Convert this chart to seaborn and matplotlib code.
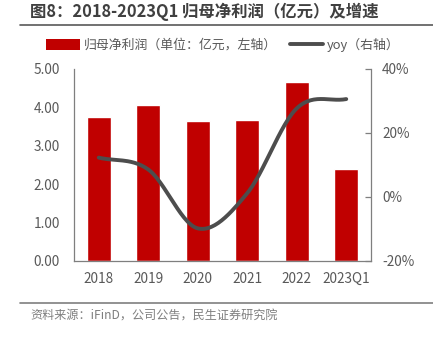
import numpy as np
import pandas as pd
import matplotlib
matplotlib.use("Agg")
import matplotlib.pyplot as plt
import seaborn as sns
from matplotlib.patches import Patch
from matplotlib.lines import Line2D

categories = ["2018", "2019", "2020", "2021", "2022", "2023Q1"]
profit = [3.76, 4.06, 3.65, 3.68, 4.66, 2.39]
yoy = [12.3, 8.6, -9.8, 1.2, 27.7, 30.6]
left_ticks = [0, 1, 2, 3, 4, 5]
right_ticks = [-20, 0, 20, 40]

sns.set_theme(style="white")
plt.rcParams["font.family"] = ["Noto Sans CJK SC", "DejaVu Sans"]

GRAY = "#595959"
fig = plt.figure(figsize=(4.33, 3.37), dpi=100)
ax = fig.add_axes([74 / 433, 1 - 261 / 337, (371 - 74) / 433, (261 - 69) / 337])

df = pd.DataFrame({"cat": categories, "profit": profit})
sns.barplot(data=df, x="cat", y="profit", color="#C00000", saturation=1,
            width=0.48, ax=ax, zorder=2)
ax.set_xlim(-0.5, 5.5)
ax.set_ylim(0, 5)
ax.set_yticks(left_ticks)
ax.set_yticklabels([f"{v:.2f}" for v in left_ticks], color=GRAY, fontsize=9.8)
ax.set_xticks(range(len(categories)))
ax.set_xticklabels(categories, color=GRAY, fontsize=9.8)
ax.set_xlabel("")
ax.set_ylabel("")
ax.tick_params(axis="y", length=0, pad=10)
ax.tick_params(axis="x", length=0, pad=8)
for s in ["left", "bottom"]:
    ax.spines[s].set_color("#7f7f7f")
    ax.spines[s].set_linewidth(0.9)
ax.spines["top"].set_visible(False)
ax.spines["right"].set_visible(False)

ax2 = ax.twinx()
# smooth (Catmull-Rom) rendering of the yoy points
xs = np.arange(len(yoy), dtype=float)
ys = np.array(yoy, dtype=float)
px = np.concatenate([[2 * xs[0] - xs[1]], xs, [2 * xs[-1] - xs[-2]]])
py = np.concatenate([[2 * ys[0] - ys[1]], ys, [2 * ys[-1] - ys[-2]]])
sx, sy = [], []
for i in range(1, len(px) - 2):
    t = np.linspace(0, 1, 30)
    for P, out in ((px, sx), (py, sy)):
        p0, p1, p2, p3 = P[i - 1], P[i], P[i + 1], P[i + 2]
        out.extend(0.5 * ((2 * p1) + (-p0 + p2) * t + (2 * p0 - 5 * p1 + 4 * p2 - p3) * t ** 2
                          + (-p0 + 3 * p1 - 3 * p2 + p3) * t ** 3))
line_df = pd.DataFrame({"x": sx, "y": sy})
sns.lineplot(data=line_df, x="x", y="y", color="#4d4d4d", linewidth=2.8, ax=ax2,
             sort=False, estimator=None, solid_capstyle="round")
ax2.set_xlim(-0.5, 5.5)
ax2.set_ylim(-20, 40)
ax2.set_yticks(right_ticks)
ax2.set_yticklabels([f"{v}%" for v in right_ticks], color=GRAY, fontsize=9.8)
ax2.set_ylabel("")
ax2.tick_params(axis="y", direction="in", length=4, width=0.9, color="#7f7f7f", pad=8)
for s in ["left", "top", "bottom"]:
    ax2.spines[s].set_visible(False)
ax2.spines["right"].set_color("#7f7f7f")
ax2.spines["right"].set_linewidth(0.9)

handles = [Patch(facecolor="#C00000", edgecolor="none"),
           Line2D([0], [0], color="#4d4d4d", linewidth=2.8)]
labels = ["归母净利润（单位：亿元，左轴）", "yoy（右轴）"]
fig.legend(handles, labels, loc="center", bbox_to_anchor=(0.515, 1 - 45 / 337), ncol=2,
           frameon=False, fontsize=9.3, handlelength=2.6, handleheight=1.0,
           columnspacing=1.0, handletextpad=0.3, labelcolor=GRAY)

fig.text(30 / 433, 1 - 12 / 337, "图8：2018-2023Q1 归母净利润（亿元）及增速",
         fontsize=11.8, fontweight="bold", color="#404040", va="center", ha="left")
fig.add_artist(Line2D([20 / 433, 1], [1 - 25 / 337] * 2, color="#595959", linewidth=1.2))
fig.add_artist(Line2D([20 / 433, 1], [1 - 303 / 337] * 2, color="#7f7f7f", linewidth=1.2))
fig.text(30 / 433, 1 - 316 / 337, "资料来源：iFinD，公司公告，民生证券研究院",
         fontsize=8.7, color="#7f7f7f", va="center", ha="left")

fig.savefig("out.png", dpi=100)
